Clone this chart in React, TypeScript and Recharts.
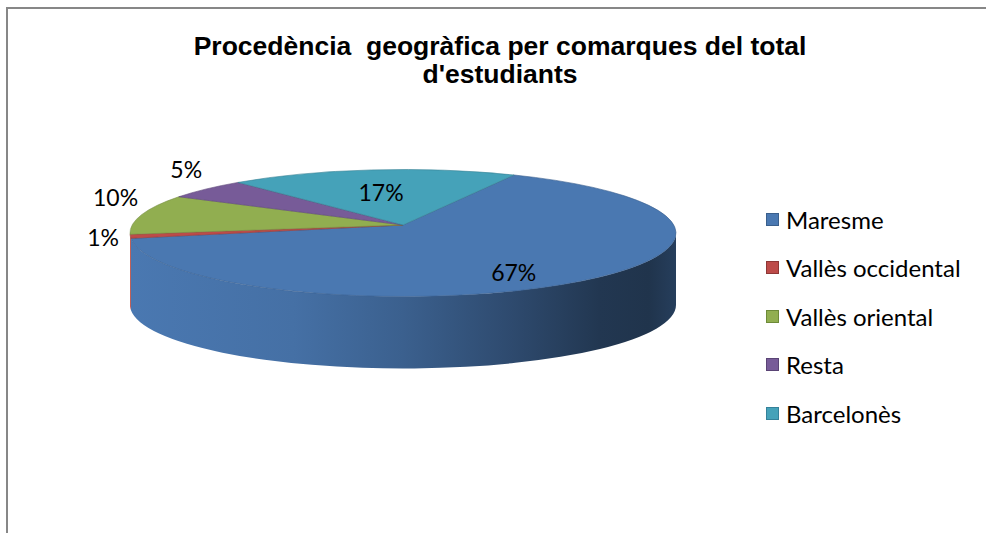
import React from 'react';
import { PieChart, Pie, Cell, Legend } from 'recharts';

const categories = ['Maresme', 'Vallès occidental', 'Vallès oriental', 'Resta', 'Barcelonès'];
const values = [67, 1, 10, 5, 17];
const colors = ['#4a78b1', '#bd4b49', '#91ae50', '#775b98', '#45a2b9'];
const legendBorders = ['#3a5f8c', '#8e3735', '#6d8a38', '#5a4475', '#34819a'];

const data = categories.map((name, i) => ({ name, value: values[i] }));

const RATIO = 0.2326;
const DEPTH = 72;
const APEX_LIFT = 8;

function shade(hex: string, f: number) {
  const n = parseInt(hex.slice(1), 16);
  const r = Math.min(255, Math.round(((n >> 16) & 255) * f));
  const g = Math.min(255, Math.round(((n >> 8) & 255) * f));
  const b = Math.min(255, Math.round((n & 255) * f));
  return `rgb(${r},${g},${b})`;
}

function pt(cx: number, cy: number, rx: number, ry: number, a: number) {
  const r = (a * Math.PI) / 180;
  return [cx + rx * Math.cos(r), cy - ry * Math.sin(r)];
}

const SideStops = [
  [0, 1.0],
  [0.3, 0.93],
  [0.5, 0.8],
  [0.7, 0.62],
  [0.86, 0.46],
  [0.95, 0.43],
  [1, 0.52],
];

const renderShape = (props: any) => {
  const { cx, cy, startAngle, endAngle, outerRadius } = props;
  const name = props.payload?.name ?? props.name;
  let idx = categories.indexOf(name);
  if (idx < 0) idx = props.index ?? 0;
  const color = colors[idx];
  const rx = outerRadius;
  const ry = outerRadius * RATIO;
  const a0 = Math.max(startAngle, endAngle);
  const a1 = Math.min(startAngle, endAngle);

  const sides: [number, number][] = [];
  for (let k = -2; k <= 2; k++) {
    const lo = -180 + 360 * k;
    const hi = 360 * k;
    const b0 = Math.min(a0, hi);
    const b1 = Math.max(a1, lo);
    if (b0 > b1 + 0.01) sides.push([b0, b1]);
  }
  const gid = `side-grad-${idx}`;
  const sidePaths = sides.map(([b0, b1], i) => {
    const p0 = pt(cx, cy, rx, ry, b0);
    const p1 = pt(cx, cy, rx, ry, b1);
    const large = b0 - b1 > 180 ? 1 : 0;
    const d = `M${p0[0]},${p0[1]} A${rx},${ry} 0 ${large} 1 ${p1[0]},${p1[1]} L${p1[0]},${p1[1] + DEPTH} A${rx},${ry} 0 ${large} 0 ${p0[0]},${p0[1] + DEPTH} Z`;
    return <path key={i} d={d} fill={`url(#${gid})`} stroke="none" />;
  });

  const s = pt(cx, cy, rx, ry, a0);
  const e = pt(cx, cy, rx, ry, a1);
  const large = a0 - a1 > 180 ? 1 : 0;
  const top = `M${cx},${cy - APEX_LIFT} L${s[0]},${s[1]} A${rx},${ry} 0 ${large} 1 ${e[0]},${e[1]} Z`;

  return (
    <g>
      <defs>
        <linearGradient id={gid} gradientUnits="userSpaceOnUse" x1={cx - rx} y1={0} x2={cx + rx} y2={0}>
          {SideStops.map(([o, f], i) => (
            <stop key={i} offset={o} stopColor={shade(color, f)} />
          ))}
        </linearGradient>
      </defs>
      {sidePaths}
      <path d={top} fill={color} stroke={shade(color, 0.8)} strokeWidth={0.6} strokeLinejoin="round" />
    </g>
  );
};

const renderLabel = (p: any) => {
  const { cx, cy, midAngle, outerRadius, percent } = p;
  const rx = outerRadius;
  const ry = outerRadius * RATIO;
  const r = (midAngle * Math.PI) / 180;
  const cos = Math.cos(r);
  const sin = Math.sin(r);
  let x: number;
  let y: number;
  if (percent > 0.15) {
    x = cx + rx * 0.7 * cos;
    y = cy - ry * 0.7 * sin + 3;
  } else {
    x = cx + rx * 1.1 * cos;
    y = cy - ry * 1.1 * sin - (sin > 0 ? 16 : 0);
  }
  return (
    <text
      x={x}
      y={y}
      textAnchor="middle"
      dominantBaseline="central"
      fontFamily="Lato, 'Open Sans', sans-serif"
      fontSize={23}
      fill="#000"
    >
      {`${Math.round(percent * 100)}%`}
    </text>
  );
};

const renderLegend = () => {
  return (
    <div style={{ fontFamily: "Lato, 'Open Sans', sans-serif" }}>
      {categories.map((name, k) => (
        <div key={name} style={{ height: 48.5, display: 'flex', alignItems: 'center' }}>
          <div
            style={{
              width: 11,
              height: 11,
              background: colors[k],
              border: `1.5px solid ${legendBorders[k]}`,
              marginRight: 7,
              flexShrink: 0,
            }}
          />
          <span style={{ fontSize: 24, color: '#000', whiteSpace: 'nowrap' }}>{name}</span>
        </div>
      ))}
    </div>
  );
};

export default function App() {
  return (
    <div
      style={{
        position: 'absolute',
        left: 0,
        top: 0,
        width: 986,
        height: 533,
        overflow: 'hidden',
        background: '#fff',
      }}
    >
      <div
        style={{
          position: 'absolute',
          left: 6,
          top: 7,
          width: 1000,
          height: 560,
          border: '2px solid #878787',
        }}
      />
      <div
        style={{
          position: 'absolute',
          left: 0,
          top: 32,
          width: 1000,
          textAlign: 'center',
          fontFamily: "'Liberation Sans', Arial, sans-serif",
          fontWeight: 'bold',
          fontSize: 26.5,
          lineHeight: '28px',
          color: '#000',
        }}
      >
        Procedència&nbsp; geogràfica per comarques del total
        <br />
        d'estudiants
      </div>
      <div style={{ position: 'absolute', left: 0, top: 0 }}>
        <PieChart width={986} height={533} margin={{ top: 0, right: 0, bottom: 0, left: 0 }}>
          <Pie
            data={data}
            dataKey="value"
            nameKey="name"
            cx={403}
            cy={233}
            outerRadius={273}
            startAngle={66}
            endAngle={-294}
            isAnimationActive={false}
            labelLine={false}
            label={renderLabel}
            shape={renderShape}
            inactiveShape={renderShape}
            activeShape={renderShape}
            stroke="none"
          >
            {data.map((d, i) => (
              <Cell key={d.name} fill={colors[i]} />
            ))}
          </Pie>
          <Legend
            layout="vertical"
            content={renderLegend}
            wrapperStyle={{ position: 'absolute', left: 766, top: 195, width: 215 }}
          />
        </PieChart>
      </div>
    </div>
  );
}
